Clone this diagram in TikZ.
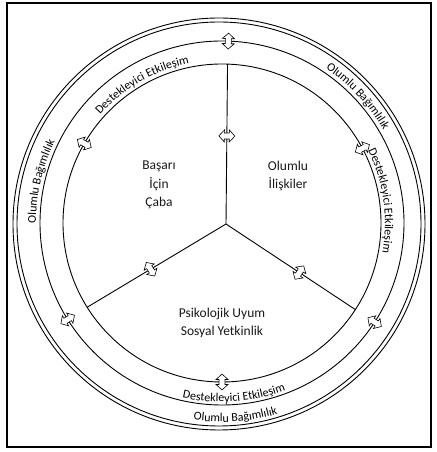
\documentclass[tikz,border=0pt]{standalone}
\usepackage{fontspec}
\setmainfont{Carlito}
\usetikzlibrary{calc,decorations.text}
\newcommand\bandfont{\fontsize{12}{14}\selectfont}
\tikzset{
  ring line/.style={draw=black, line width=0.9pt},
  pics/swap arrow/.style={
    code={
      \draw[fill=white, line width=0.6pt]
        (0,8) -- (6,2.5) -- (3,2.5) -- (3,-2.5) -- (6,-2.5) -- (0,-8)
        -- (-6,-2.5) -- (-3,-2.5) -- (-3,2.5) -- (-6,2.5) -- cycle;
    }
  },
  area label/.style={
    align=center, text=black!90, font=\fontsize{13.5}{18.5}\selectfont
  },
  band text/.style={
    decorate, decoration={text along path, text align=center, text={|\bandfont|#1}}
  }
}

\begin{document}
\begin{tikzpicture}[x=1pt, y=1pt]
  \useasboundingbox (0,0) rectangle (436,452);
  \draw[line width=1.6pt] (7,5) rectangle (431,449);

  \coordinate (O) at (222,229);
  \coordinate (Q) at (219,228);
  \coordinate (hub) at (226,228);

% ------------------------------------------------
% circles
% ------------------------------------------------
  \draw[ring line] (Q) circle[radius=206pt];
  \draw[ring line] (Q) circle[radius=202pt];
  \draw[ring line] (O) circle[radius=182pt];
  \draw[ring line] (O) circle[radius=159pt];

% ------------------------------------------------
% Y arms
% ------------------------------------------------
  \coordinate (armT) at ($(O)+(88:159pt)$);
  \coordinate (armL) at ($(O)+(212:159pt)$);
  \coordinate (armR) at ($(O)+(327:159pt)$);
  \draw[ring line] (hub) -- (armT);
  \draw[ring line] (hub) -- (armL);
  \draw[ring line] (hub) -- (armR);

% arrows on the arms
  \pic[rotate=89]  (aT) at ($(hub)!88pt!(armT)$) {swap arrow};
  \pic[rotate=212] (aL) at ($(hub)!88pt!(armL)$) {swap arrow};
  \pic[rotate=327] (aR) at ($(hub)!88pt!(armR)$) {swap arrow};

% arrows on the outer ring
  \pic[rotate=-2]  (rT) at ($(O)+(88:182pt)$) {swap arrow};
  \pic[rotate=122] (rL) at ($(O)+(212:182pt)$) {swap arrow};
  \pic[rotate=237] (rR) at ($(O)+(327:182pt)$) {swap arrow};

% arrows on the inner circle
  \pic[rotate=-62] (eR) at ($(O)+(28:159pt)$) {swap arrow};
  \pic[rotate=60]  (eL) at ($(O)+(150:159pt)$) {swap arrow};
  \pic[rotate=0]   (eB) at ($(O)+(270:159pt)$) {swap arrow};

% ------------------------------------------------
% labels
% ------------------------------------------------
  \node[area label] (lbA) at (159,267) {Başarı\\İçin\\Çaba};
  \node[area label] (lbB) at (288,276) {Olumlu\\İlişkiler};
  \node[area label] (lbC) at (222,129) {Psikolojik Uyum\\Sosyal Yetkinlik};

  \path[band text={Destekleyici Etkileşim}]
    ([shift={(O)}]160:163pt) arc[start angle=160, end angle=80, radius=163pt];
  \path[band text={Destekleyici Etkileşim}]
    ([shift={(O)}]48:163pt) arc[start angle=48, end angle=-32, radius=163pt];
  \path[band text={Destekleyici Etkileşim}]
    ([shift={(O)}]-126:179pt) arc[start angle=-126, end angle=-46, radius=179pt];

  \path[band text={Olumlu Bağımlılık}]
    ([shift={(O)}]78:186pt) arc[start angle=78, end angle=8, radius=186pt];
  \path[band text={Olumlu Bağımlılık}]
    ([shift={(O)}]202:186pt) arc[start angle=202, end angle=132, radius=186pt];
  \path[band text={Olumlu Bağımlılık}]
    ([shift={(O)}]-121:199pt) arc[start angle=-121, end angle=-51, radius=199pt];
\end{tikzpicture}
\end{document}
